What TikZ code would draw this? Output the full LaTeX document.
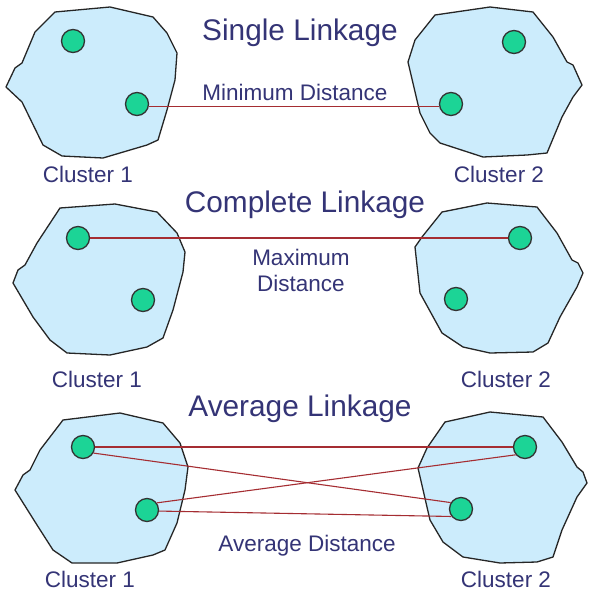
\documentclass[tikz,border=0pt]{standalone}
\usepackage{fontspec}
\setmainfont{Liberation Sans}
\begin{document}
\begin{tikzpicture}[x=1pt,y=-1pt,
  blob/.style={draw=black!85, line width=1.3pt, fill=blobfill, line join=round},
  dot/.style={circle, draw=black!80, line width=1.3pt, fill=dotfill, minimum size=23pt, inner sep=0pt},
  link/.style={draw=linkred, line width=1.1pt},
  title/.style={text=textnavy, font=\fontsize{29.8}{32}\selectfont},
  label/.style={text=textnavy, font=\fontsize{22.5}{26}\selectfont, align=center}]
\definecolor{blobfill}{RGB}{204,236,252}
\definecolor{dotfill}{RGB}{28,212,150}
\definecolor{linkred}{RGB}{165,45,50}
\definecolor{textnavy}{RGB}{52,52,118}
\useasboundingbox[fill=white] (0,0) rectangle (589,595);

% ---------- Single linkage ----------
\draw[blob] (55,12) -- (110,7) -- (153,17) -- (167,33) -- (177,53) -- (175,80) -- (167,110) -- (158,140) -- (147,145) -- (103,158) -- (62,156) -- (43,145) -- (22,102) -- (6,87) -- (15,68) -- (22,63) -- (35,32) -- cycle;
\draw[blob] (435,15) -- (490,7) -- (533,12) -- (553,37) -- (567,62) -- (573,65) -- (582,85) -- (573,97) -- (562,117) -- (547,153) -- (527,155) -- (483,157) -- (440,143) -- (430,133) -- (420,113) -- (408,62) -- (415,40) -- cycle;
\node[dot] (s1a) at (73,41) {};
\node[dot] (s1b) at (137,104) {};
\node[dot] (s2a) at (514,42) {};
\node[dot] (s2b) at (451,104) {};
\draw[link] (s1b.-12) -- (s2b.192);
\node[title] (t1) at (300,33) {Single Linkage};
\node[label] (d1) at (295,92) {Minimum Distance};
\node[label] (c11) at (88,174) {Cluster 1};
\node[label] (c12) at (499,174) {Cluster 2};

% ---------- Complete linkage ----------
\draw[blob] (60,208) -- (115,204) -- (157,212) -- (177,233) -- (185,252) -- (183,272) -- (173,310) -- (163,338) -- (147,347) -- (110,355) -- (67,353) -- (50,340) -- (33,317) -- (13,283) -- (18,270) -- (25,265) -- (37,243) -- cycle;
\draw[blob] (442,212) -- (487,203) -- (537,207) -- (557,233) -- (572,260) -- (578,263) -- (583,273) -- (577,287) -- (560,317) -- (548,343) -- (533,352) -- (490,353) -- (463,347) -- (442,333) -- (420,293) -- (415,247) -- (422,237) -- cycle;
\node[dot] (m1a) at (78,238) {};
\node[dot] (m1b) at (143,300) {};
\node[dot] (m2a) at (520,238) {};
\node[dot] (m2b) at (456,299) {};
\draw[link] (m1a) -- (m2a);
\node[title] (t2) at (305,205) {Complete Linkage};
\node[label] (d2) at (301,270) {Maximum\\Distance};
\node[label] (c21) at (97,379) {Cluster 1};
\node[label] (c22) at (506,379) {Cluster 2};

% ---------- Average linkage ----------
\draw[blob] (63,420) -- (120,413) -- (163,423) -- (180,443) -- (188,467) -- (185,490) -- (177,523) -- (165,550) -- (153,555) -- (117,563) -- (72,563) -- (53,550) -- (37,525) -- (15,490) -- (23,475) -- (30,470) -- (40,450) -- cycle;
\draw[blob] (445,422) -- (490,412) -- (543,417) -- (562,442) -- (577,467) -- (583,472) -- (587,483) -- (577,497) -- (562,530) -- (553,557) -- (537,562) -- (500,563) -- (463,557) -- (443,542) -- (430,520) -- (418,468) -- (427,448) -- cycle;
\node[dot] (a1a) at (83,447) {};
\node[dot] (a1b) at (147,510) {};
\node[dot] (a2a) at (525,447) {};
\node[dot] (a2b) at (461,509) {};
\draw[link] (a1a.east) -- (a2a.west);
\draw[link] (a1a.-30) -- (a2b.148);
\draw[link] (a1b.36) -- (a2a.220);
\draw[link] (a1b.-5) -- (a2b.218);
\node[title] (t3) at (300,409) {Average Linkage};
\node[label] (d3) at (307,546) {Average Distance};
\node[label] (c31) at (90,579) {Cluster 1};
\node[label] (c32) at (506,579) {Cluster 2};
\end{tikzpicture}
\end{document}
